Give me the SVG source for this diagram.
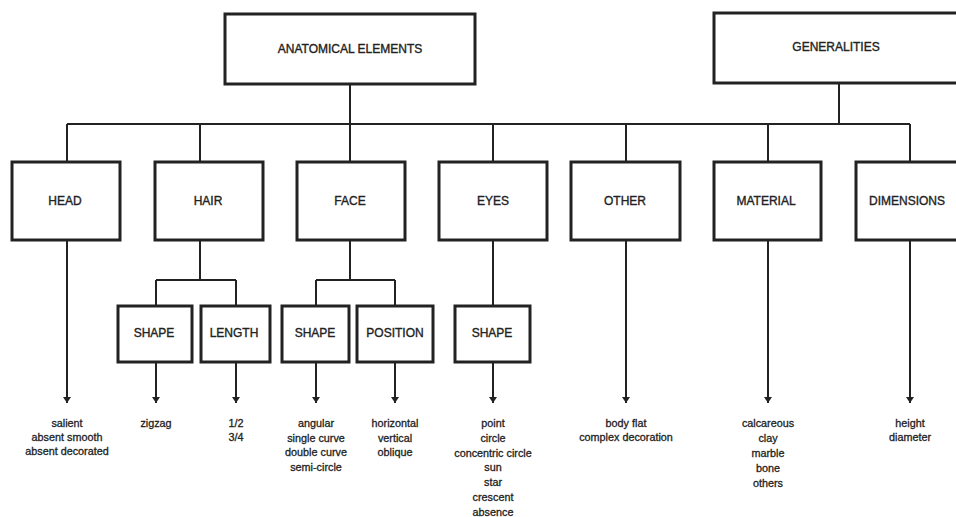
<svg xmlns="http://www.w3.org/2000/svg" width="956" height="517" viewBox="0 0 956 517">
<style>
.box{fill:#fff;stroke:#222;stroke-width:3}
.lbl{font-family:"Liberation Sans",Arial,sans-serif;font-size:12px;fill:#222;stroke:#222;stroke-width:0.35;text-anchor:middle;dominant-baseline:central}
.lst{font-family:"Liberation Sans",Arial,sans-serif;font-size:10.8px;fill:#222;stroke:#222;stroke-width:0.3;text-anchor:middle}
.con{fill:none;stroke:#222;stroke-width:2}
</style>
<defs>
<marker id="ah" viewBox="0 0 6 8" refX="6" refY="4" markerWidth="6" markerHeight="8" markerUnits="userSpaceOnUse" orient="auto">
<path d="M0,0 L6,4 L0,8 Z" fill="#222"/>
</marker>
</defs>
<rect width="956" height="517" fill="#fff"/>
<g id="connectors">
<path class="con" d="M350,84 V124 M839,83 V124 M67,124 H910 M67,124 V162 M200,124 V162 M350,124 V162 M493,124 V162 M626,124 V162 M768,124 V162 M910,124 V162"/>
<path class="con" d="M200,240 V280 M156,280 H236 M156,280 V306 M236,280 V306"/>
<path class="con" d="M350,240 V280 M316,280 H395 M316,280 V306 M395,280 V306"/>
<path class="con" d="M493,240 V306"/>
<path class="con" marker-end="url(#ah)" d="M67,240 V403"/>
<path class="con" marker-end="url(#ah)" d="M156,362 V403"/>
<path class="con" marker-end="url(#ah)" d="M236,362 V403"/>
<path class="con" marker-end="url(#ah)" d="M316,362 V403"/>
<path class="con" marker-end="url(#ah)" d="M395,362 V403"/>
<path class="con" marker-end="url(#ah)" d="M493,362 V403"/>
<path class="con" marker-end="url(#ah)" d="M626,240 V403"/>
<path class="con" marker-end="url(#ah)" d="M768,240 V403"/>
<path class="con" marker-end="url(#ah)" d="M910,240 V403"/>
</g>
<g id="anatomical"><rect class="box" x="225" y="14" width="250" height="70"/><text class="lbl" x="350" y="49">ANATOMICAL ELEMENTS</text></g>
<g id="generalities"><rect class="box" x="714" y="13" width="250" height="70"/><text class="lbl" x="836" y="47">GENERALITIES</text></g>
<g id="head"><rect class="box" x="12" y="162" width="108" height="78"/><text class="lbl" x="65" y="201">HEAD</text></g>
<g id="hair"><rect class="box" x="155" y="162" width="108" height="78"/><text class="lbl" x="208" y="201">HAIR</text></g>
<g id="face"><rect class="box" x="297" y="162" width="108" height="78"/><text class="lbl" x="350" y="201">FACE</text></g>
<g id="eyes"><rect class="box" x="439" y="162" width="108" height="78"/><text class="lbl" x="493" y="201">EYES</text></g>
<g id="other"><rect class="box" x="571" y="162" width="109" height="78"/><text class="lbl" x="625" y="201">OTHER</text></g>
<g id="material"><rect class="box" x="714" y="162" width="107" height="78"/><text class="lbl" x="766" y="201">MATERIAL</text></g>
<g id="dimensions"><rect class="box" x="856" y="162" width="110" height="78"/><text class="lbl" x="907" y="201">DIMENSIONS</text></g>
<g id="hair-shape"><rect class="box" x="118" y="306" width="74" height="56"/><text class="lbl" x="154" y="333">SHAPE</text></g>
<g id="hair-length"><rect class="box" x="201" y="306" width="69" height="56"/><text class="lbl" x="234" y="333">LENGTH</text></g>
<g id="face-shape"><rect class="box" x="282" y="306" width="67" height="56"/><text class="lbl" x="315" y="333">SHAPE</text></g>
<g id="face-position"><rect class="box" x="357" y="306" width="76" height="56"/><text class="lbl" x="395" y="333">POSITION</text></g>
<g id="eyes-shape"><rect class="box" x="455" y="306" width="75" height="56"/><text class="lbl" x="492" y="333">SHAPE</text></g>
<g id="lists">
<text class="lst" x="67" y="427">salient<tspan x="67" dy="14">absent smooth</tspan><tspan x="67" dy="14">absent decorated</tspan></text>
<text class="lst" x="156" y="427">zigzag</text>
<text class="lst" x="236" y="427">1/2<tspan x="236" dy="14">3/4</tspan></text>
<text class="lst" x="316" y="427">angular<tspan x="316" dy="14.5">single curve</tspan><tspan x="316" dy="14.5">double curve</tspan><tspan x="316" dy="14.5">semi-circle</tspan></text>
<text class="lst" x="395" y="427">horizontal<tspan x="395" dy="14.5">vertical</tspan><tspan x="395" dy="14.5">oblique</tspan></text>
<text class="lst" x="493" y="427">point<tspan x="493" dy="14.8">circle</tspan><tspan x="493" dy="14.8">concentric circle</tspan><tspan x="493" dy="14.8">sun</tspan><tspan x="493" dy="14.8">star</tspan><tspan x="493" dy="14.8">crescent</tspan><tspan x="493" dy="14.8">absence</tspan></text>
<text class="lst" x="626" y="427">body flat<tspan x="626" dy="14">complex decoration</tspan></text>
<text class="lst" x="768" y="427">calcareous<tspan x="768" dy="15">clay</tspan><tspan x="768" dy="15">marble</tspan><tspan x="768" dy="15">bone</tspan><tspan x="768" dy="15">others</tspan></text>
<text class="lst" x="910" y="427">height<tspan x="910" dy="14">diameter</tspan></text>
</g>
</svg>
